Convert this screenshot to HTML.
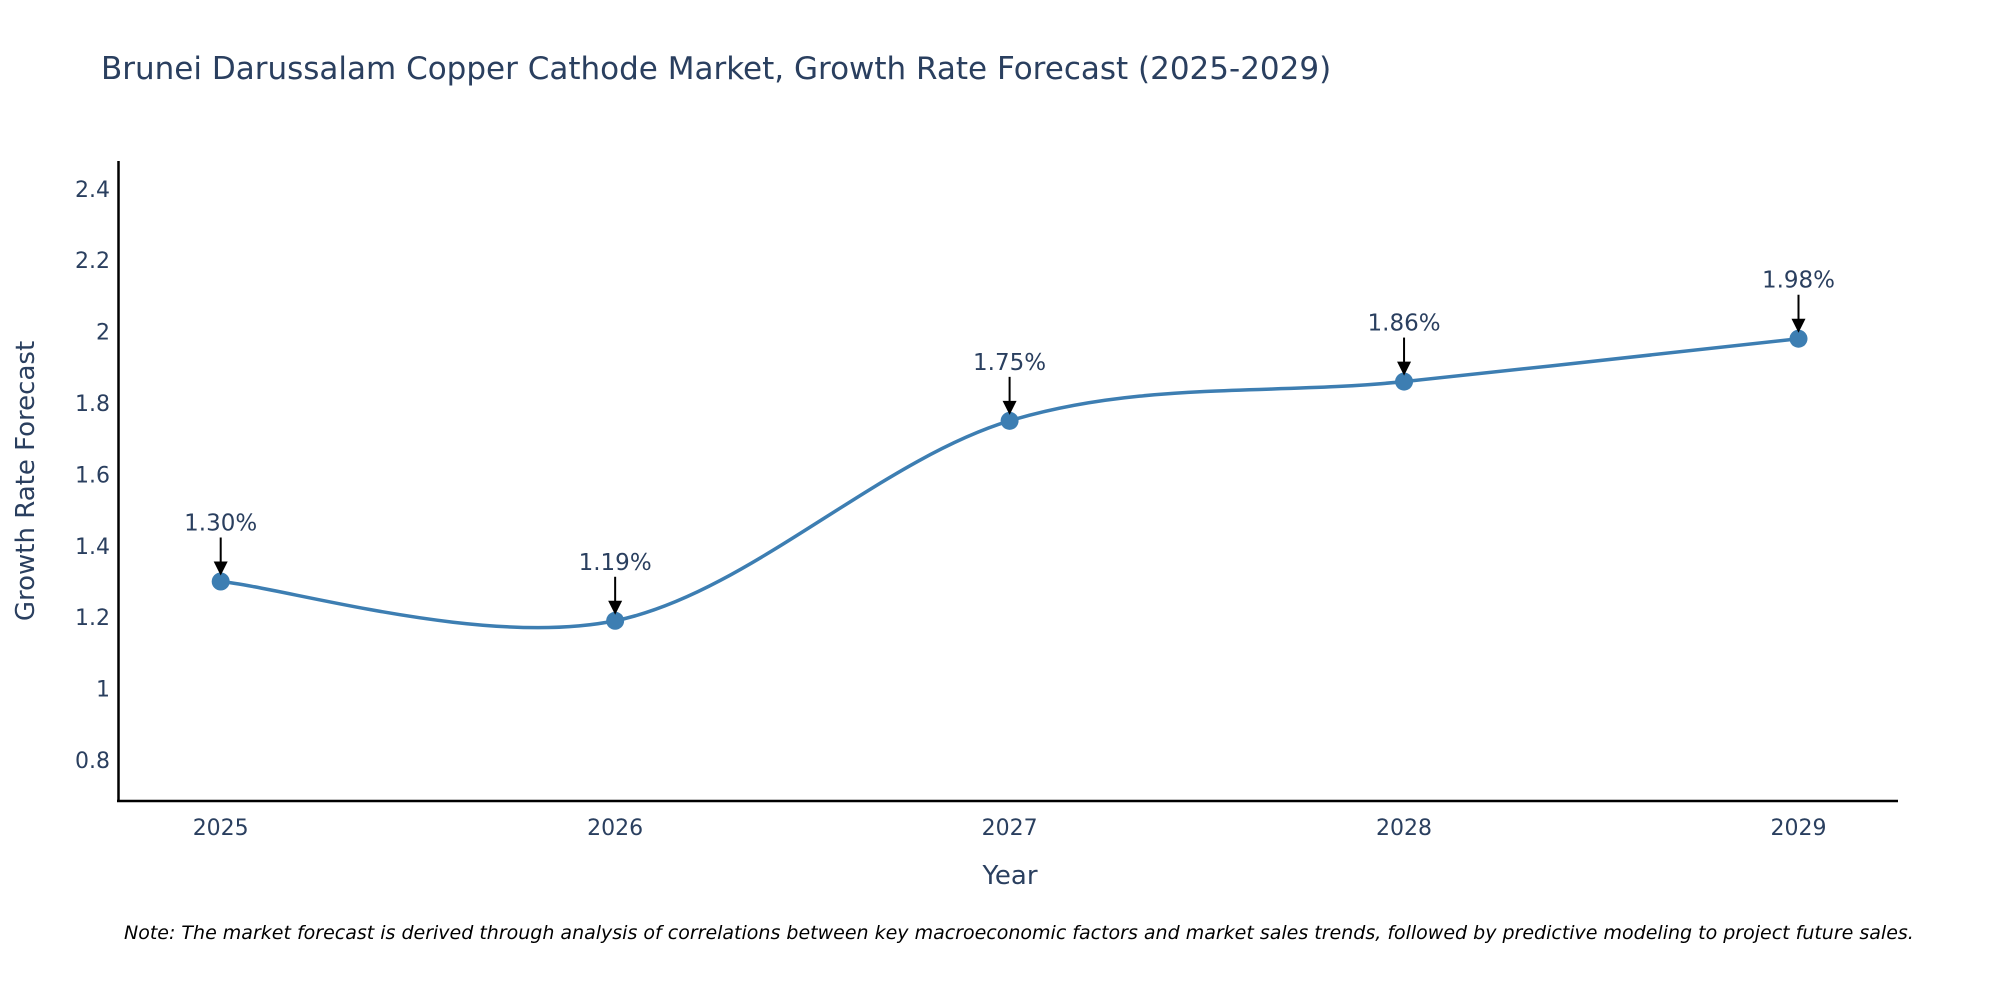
<!DOCTYPE html>
<html><head><meta charset="utf-8"><style>
body{margin:0;background:#fff;}
svg{display:block;font-family:"DejaVu Sans","Liberation Sans",sans-serif;}
</style></head><body>
<svg id="chart" width="2000" height="1000" viewBox="0 0 2000 1000" xmlns="http://www.w3.org/2000/svg">
<text x="101" y="79" font-size="31" fill="#2a3f5f">Brunei Darussalam Copper Cathode Market, Growth Rate Forecast (2025-2029)</text>
<g id="yticks"></g>
<g id="xticks"></g>
<line x1="118.5" y1="161" x2="118.5" y2="802" stroke="#000" stroke-width="2.5"/>
<line x1="117" y1="801" x2="1898" y2="801" stroke="#000" stroke-width="2.5"/>
<text transform="translate(34,481) rotate(-90)" text-anchor="middle" font-size="26" fill="#2a3f5f">Growth Rate Forecast</text>
<text x="1010" y="884" text-anchor="middle" font-size="26" fill="#2a3f5f">Year</text>
<g id="series"></g>
<g id="annots"></g>
<text x="124" y="939" font-size="19" font-style="italic" fill="#000">Note: The market forecast is derived through analysis of correlations between key macroeconomic factors and market sales trends, followed by predictive modeling to project future sales.</text>
</svg>
<script>
const years = [2025, 2026, 2027, 2028, 2029];
const values = [1.30, 1.19, 1.75, 1.86, 1.98];
const valueLabels = ["1.30%", "1.19%", "1.75%", "1.86%", "1.98%"];
const yTickValues = [0.8, 1, 1.2, 1.4, 1.6, 1.8, 2, 2.2, 2.4];
const yTickLabels = ["0.8", "1", "1.2", "1.4", "1.6", "1.8", "2", "2.2", "2.4"];

const NS = "http://www.w3.org/2000/svg";
function xPos(yr){ return 220.7 + (yr - 2025) * 394.45; }
function yPos(v){ return 760 - (v - 0.8) * 357; }
function mk(tag, attrs, parent){ const e=document.createElementNS(NS,tag); for(const k in attrs) e.setAttribute(k,attrs[k]); parent.appendChild(e); return e; }

const yt=document.getElementById('yticks');
yTickValues.forEach((v,i)=>{
  const t=mk('text',{x:110,y:yPos(v)+8,'text-anchor':'end','font-size':22,fill:'#2a3f5f'},yt);
  
  
  t.textContent=yTickLabels[i];
});
const xt=document.getElementById('xticks');
years.forEach(yr=>{
  const t=mk('text',{x:xPos(yr),y:835,'text-anchor':'middle','font-size':22,fill:'#2a3f5f'},xt);
  
  
  t.textContent=String(yr);
});

const pts=years.map((yr,i)=>[xPos(yr),yPos(values[i])]);
let d=`M${pts[0][0]},${pts[0][1]}`;
const s=0.5;
for(let i=0;i<pts.length-1;i++){
  const p0=pts[Math.max(0,i-1)],p1=pts[i],p2=pts[i+1],p3=pts[Math.min(pts.length-1,i+2)];
  const c1=[p1[0]+(p2[0]-p0[0])*s/3, p1[1]+(p2[1]-p0[1])*s/3];
  const c2=[p2[0]-(p3[0]-p1[0])*s/3, p2[1]-(p3[1]-p1[1])*s/3];
  d+=` C${c1[0]},${c1[1]} ${c2[0]},${c2[1]} ${p2[0]},${p2[1]}`;
}
const ser=document.getElementById('series');
const line=mk('path',{d:d,fill:'none',stroke:'#3d7eb2','stroke-width':3.5},ser);


const an=document.getElementById('annots');
pts.forEach((p,i)=>{
  const c=mk('circle',{cx:p[0],cy:p[1],r:9,fill:'#3d7eb2'},ser);
  
  
  const l=mk('line',{x1:p[0],y1:p[1]-44,x2:p[0],y2:p[1]-18,stroke:'#000','stroke-width':2},an);
  
  
  const h=mk('path',{d:`M${p[0]-7},${p[1]-20} L${p[0]+7},${p[1]-20} L${p[0]},${p[1]-6} Z`,fill:'#000'},an);
  
  
  const t=mk('text',{x:p[0],y:p[1]-51,'text-anchor':'middle','font-size':23,fill:'#2a3f5f'},an);
  
  
  t.textContent=valueLabels[i];
});
</script>
</body></html>
